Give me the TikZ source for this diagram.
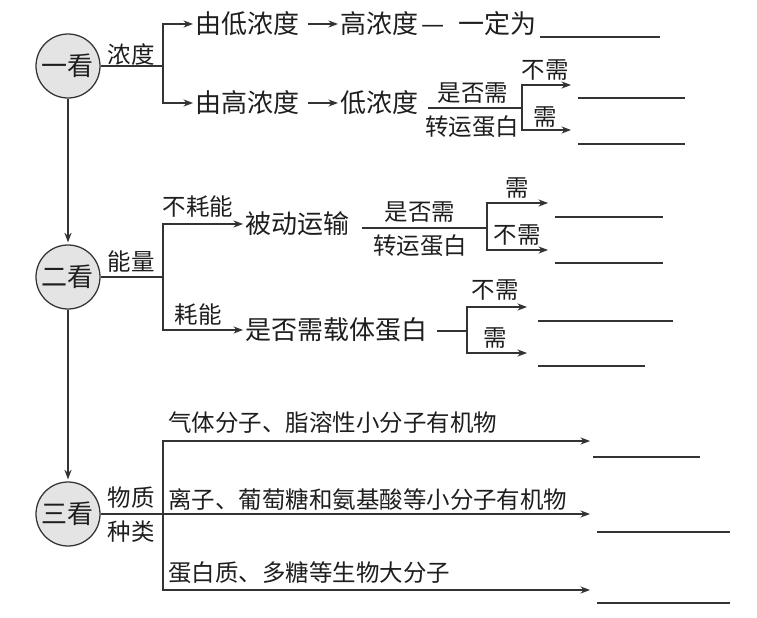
\documentclass[tikz,border=0pt]{standalone}
\usepackage{fontspec}
\setmainfont{Noto Sans CJK SC}
\usetikzlibrary{arrows.meta}

\definecolor{linegray}{HTML}{333333}
\definecolor{inkgray}{HTML}{1E1E1E}
\definecolor{circfill}{HTML}{E4E4E4}

\newcommand{\mainsz}{\fontsize{18.5pt}{20pt}\selectfont}
\newcommand{\subsz}{\fontsize{16.7pt}{18pt}\selectfont}

\begin{document}
\begin{tikzpicture}[
  look/.style={circle, draw=linegray, line width=0.9pt, fill=circfill, minimum size=1.6cm, inner sep=0pt, font=\mainsz, text=inkgray},
  item/.style={anchor=west, inner sep=0pt, font=\mainsz, text=inkgray},
  tag/.style={inner sep=0pt, font=\subsz, text=inkgray},
  link/.style={draw=linegray, line width=0.9pt},
  arr/.style={link, -{Stealth[length=2.4mm, width=1.8mm]}, shorten >=0.05cm},
  blank/.style={draw=linegray, line width=0.8pt}
]
\useasboundingbox (0,0) rectangle (18.925,-15.45);

% First look: concentration
\node[look] (look1) at (1.7,-1.65) {一看};
\node[tag] (conc) at (3.275,-1.375) {浓度};
\coordinate (fork1) at (4.075,-1.65);
\draw[link] (look1) -- (fork1);

\node[item] (lowhigh) at (4.875,-0.6) {由低浓度};
\node[item] (lowhighres) at (8.5,-0.6) {高浓度\makebox[1.15em][c]{—}\hspace{0.4em}一定为};
\node[item] (highlow) at (4.875,-2.575) {由高浓度};
\node[item] (highlowres) at (8.5,-2.575) {低浓度};
\draw[arr] (fork1) |- (lowhigh.west);
\draw[arr] (fork1) |- (highlow.west);
\draw[arr] ([xshift=0.2cm]lowhigh.east) -- (lowhighres.west);
\draw[arr] ([xshift=0.2cm]highlow.east) -- (highlowres.west);
\draw[blank] (13.5,-0.925) -- (16.5,-0.925);

% need a transport protein?
\coordinate (split1) at (10.7,-2.7);
\coordinate (fork2) at (13.05,-2.7);
\draw[link] (split1) -- (fork2);
\node[tag] (ask1) at (11.825,-2.325) {是否需};
\node[tag] (carrier1) at (11.8,-3.175) {转运蛋白};
\coordinate (no1) at (14.325,-2.125);
\coordinate (yes1) at (14.325,-3.25);
\draw[arr] (fork2) |- (no1);
\draw[arr] (fork2) |- (yes1);
\node[tag] (nolabel1) at (13.625,-1.75) {不需};
\node[tag] (yeslabel1) at (13.625,-2.925) {需};
\draw[blank] (14.45,-2.45) -- (17.125,-2.45);
\draw[blank] (14.45,-3.6) -- (17.125,-3.6);

% Second look: energy
\node[look] (look2) at (1.7,-6.925) {二看};
\draw[arr] (look1) -- (look2);
\node[tag] (energy) at (3.275,-6.55) {能量};
\coordinate (fork3) at (4.075,-6.925);
\draw[link] (look2) -- (fork3);

\node[item] (passive) at (6.125,-5.6) {被动运输};
\node[item] (carrierq) at (6.125,-8.25) {是否需载体蛋白};
\draw[arr] (fork3) |- (passive.west);
\draw[arr] (fork3) |- (carrierq.west);
\node[tag] (noenergy) at (4.95,-5.175) {不耗能};
\node[tag] (useenergy) at (4.95,-7.875) {耗能};

% passive: transport protein or not
\coordinate (split2) at (9.05,-5.7);
\coordinate (fork4) at (12.175,-5.7);
\draw[link] (split2) -- (fork4);
\node[tag] (ask2) at (10.5,-5.3) {是否需};
\node[tag] (carrier2) at (10.5,-6.15) {转运蛋白};
\coordinate (yes2) at (13.75,-5.075);
\coordinate (no2) at (13.75,-6.25);
\draw[arr] (fork4) |- (yes2);
\draw[arr] (fork4) |- (no2);
\node[tag] (yeslabel2) at (12.925,-4.7) {需};
\node[tag] (nolabel2) at (12.925,-5.875) {不需};
\draw[blank] (13.875,-5.425) -- (16.575,-5.425);
\draw[blank] (13.875,-6.575) -- (16.575,-6.575);

% energy used: carrier protein or not
\coordinate (split3) at (10.925,-8.275);
\coordinate (fork6) at (11.675,-8.275);
\draw[link] (split3) -- (fork6);
\coordinate (no3) at (13.225,-7.675);
\coordinate (yes3) at (13.225,-8.825);
\draw[arr] (fork6) |- (no3);
\draw[arr] (fork6) |- (yes3);
\node[tag] (nolabel3) at (12.375,-7.25) {不需};
\node[tag] (yeslabel3) at (12.375,-8.45) {需};
\draw[blank] (13.45,-8.025) -- (16.825,-8.025);
\draw[blank] (13.45,-9.15) -- (16.125,-9.15);

% Third look: kind of substance
\node[look] (look3) at (1.7,-12.85) {三看};
\draw[arr] (look2) -- (look3);
\node[tag] (kind1) at (3.275,-12.45) {物质};
\node[tag] (kind2) at (3.275,-13.3) {种类};
\coordinate (fork5) at (4.075,-12.85);
\draw[link] (look3) -- (fork5);

\coordinate (gas) at (14.8,-11.025);
\coordinate (ion) at (14.8,-12.85);
\coordinate (macro) at (14.8,-14.75);
\draw[arr] (fork5) |- (gas);
\draw[arr] (fork5) -- (ion);
\draw[arr] (fork5) |- (macro);
\node[tag, anchor=west] (gastext) at (4.2,-10.575) {气体分子、脂溶性小分子有机物};
\node[tag, anchor=west] (iontext) at (4.2,-12.5) {离子、葡萄糖和氨基酸等小分子有机物};
\node[tag, anchor=west] (macrotext) at (4.2,-14.325) {蛋白质、多糖等生物大分子};
\draw[blank] (14.825,-11.425) -- (17.5,-11.425);
\draw[blank] (14.925,-13.3) -- (18.25,-13.3);
\draw[blank] (14.925,-15.075) -- (18.25,-15.075);

\end{tikzpicture}
\end{document}
